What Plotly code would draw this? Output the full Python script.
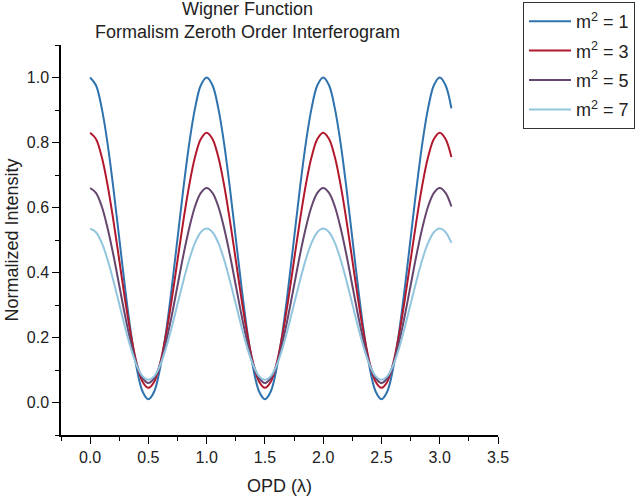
import plotly.graph_objects as go

opd = [round(i * 0.05, 2) for i in range(63)]

m2_1 = [1.000, 0.976, 0.905, 0.796, 0.658, 0.505, 0.352, 0.214, 0.105, 0.034,
        0.010, 0.034, 0.105, 0.214, 0.352, 0.505, 0.658, 0.796, 0.905, 0.976,
        1.000, 0.976, 0.905, 0.796, 0.658, 0.505, 0.352, 0.214, 0.105, 0.034,
        0.010, 0.034, 0.105, 0.214, 0.352, 0.505, 0.658, 0.796, 0.905, 0.976,
        1.000, 0.976, 0.905, 0.796, 0.658, 0.505, 0.352, 0.214, 0.105, 0.034,
        0.010, 0.034, 0.105, 0.214, 0.352, 0.505, 0.658, 0.796, 0.905, 0.976,
        1.000, 0.976, 0.905]
m2_3 = [0.830, 0.811, 0.755, 0.668, 0.559, 0.438, 0.316, 0.207, 0.120, 0.064,
        0.045, 0.064, 0.120, 0.207, 0.316, 0.438, 0.559, 0.668, 0.755, 0.811,
        0.830, 0.811, 0.755, 0.668, 0.559, 0.438, 0.316, 0.207, 0.120, 0.064,
        0.045, 0.064, 0.120, 0.207, 0.316, 0.438, 0.559, 0.668, 0.755, 0.811,
        0.830, 0.811, 0.755, 0.668, 0.559, 0.438, 0.316, 0.207, 0.120, 0.064,
        0.045, 0.064, 0.120, 0.207, 0.316, 0.438, 0.559, 0.668, 0.755, 0.811,
        0.830, 0.811, 0.755]
m2_5 = [0.660, 0.645, 0.603, 0.536, 0.453, 0.360, 0.267, 0.184, 0.117, 0.075,
        0.060, 0.075, 0.117, 0.184, 0.267, 0.360, 0.453, 0.536, 0.603, 0.645,
        0.660, 0.645, 0.603, 0.536, 0.453, 0.360, 0.267, 0.184, 0.117, 0.075,
        0.060, 0.075, 0.117, 0.184, 0.267, 0.360, 0.453, 0.536, 0.603, 0.645,
        0.660, 0.645, 0.603, 0.536, 0.453, 0.360, 0.267, 0.184, 0.117, 0.075,
        0.060, 0.075, 0.117, 0.184, 0.267, 0.360, 0.453, 0.536, 0.603, 0.645,
        0.660, 0.645, 0.603]
m2_7 = [0.535, 0.524, 0.491, 0.439, 0.374, 0.303, 0.231, 0.166, 0.114, 0.081,
        0.070, 0.081, 0.114, 0.166, 0.231, 0.303, 0.374, 0.439, 0.491, 0.524,
        0.535, 0.524, 0.491, 0.439, 0.374, 0.303, 0.231, 0.166, 0.114, 0.081,
        0.070, 0.081, 0.114, 0.166, 0.231, 0.303, 0.374, 0.439, 0.491, 0.524,
        0.535, 0.524, 0.491, 0.439, 0.374, 0.303, 0.231, 0.166, 0.114, 0.081,
        0.070, 0.081, 0.114, 0.166, 0.231, 0.303, 0.374, 0.439, 0.491, 0.524,
        0.535, 0.524, 0.491]

series_names = ["m<sup>2</sup> = 1", "m<sup>2</sup> = 3", "m<sup>2</sup> = 5", "m<sup>2</sup> = 7"]
series_values = [m2_1, m2_3, m2_5, m2_7]
colors = ["#2E72AE", "#B2182B", "#65466F", "#92C5DE"]

x_ticks = [0.0, 0.5, 1.0, 1.5, 2.0, 2.5, 3.0, 3.5]
y_ticks = [0.0, 0.2, 0.4, 0.6, 0.8, 1.0]
title_lines = ["Wigner Function", "Formalism Zeroth Order Interferogram"]

FONT = "Liberation Sans, Arial, sans-serif"
L, R, T, B = 61, 142, 45, 63
PW, PH = 640 - L - R, 498 - T - B


def px_x(px):
    return (px - L) / PW


def px_y(py):
    return (498 - B - py) / PH


fig = go.Figure()
for i, (name, vals, col) in enumerate(zip(series_names, series_values, colors)):
    fig.add_trace(go.Scatter(x=opd, y=vals, mode="lines", name=name, legendgroup=f"g{i}",
                             line=dict(color=col, width=2, shape="spline")))

annotations = []
for text, cy in zip(title_lines, [9, 32]):
    annotations.append(dict(text=text, xref="paper", yref="paper", x=px_x(247), y=px_y(cy),
                            xanchor="center", yanchor="middle", showarrow=False,
                            font=dict(size=18, color="#222222")))

fig.update_layout(
    width=640, height=498,
    margin=dict(l=L, r=R, t=T, b=B, autoexpand=False),
    paper_bgcolor="white", plot_bgcolor="white",
    font=dict(family=FONT, color="#222222"),
    annotations=annotations,
    legend=dict(x=px_x(523), xref="paper", xanchor="left",
                y=px_y(2), yref="paper", yanchor="top",
                bordercolor="#333333", borderwidth=1, bgcolor="white",
                font=dict(size=18, color="#222222"), itemwidth=42,
                tracegroupgap=3),
    showlegend=True,
)
fig.update_xaxes(
    range=[-0.25, 3.5], tickvals=x_ticks, ticktext=[f"{v:.1f}" for v in x_ticks],
    showgrid=False, zeroline=False, showline=True, linecolor="black", linewidth=1.5,
    ticks="outside", ticklen=7, tickwidth=1.2, tickcolor="black",
    minor=dict(dtick=0.25, tick0=-0.25, ticks="outside", ticklen=4, tickwidth=1.2, tickcolor="black"),
    tickfont=dict(size=16),
    title=dict(text="OPD (λ)", font=dict(size=18), standoff=14),
)
fig.update_yaxes(
    range=[-0.1, 1.1], tickvals=y_ticks, ticktext=[f"{v:.1f}" for v in y_ticks],
    showgrid=False, zeroline=False, showline=True, linecolor="black", linewidth=1.5,
    ticks="outside", ticklen=7, tickwidth=1.2, tickcolor="black",
    minor=dict(dtick=0.1, tick0=-0.1, ticks="outside", ticklen=4, tickwidth=1.2, tickcolor="black"),
    tickfont=dict(size=16),
    title=dict(text="Normalized Intensity", font=dict(size=18), standoff=3),
)

fig.write_html("out.html")
